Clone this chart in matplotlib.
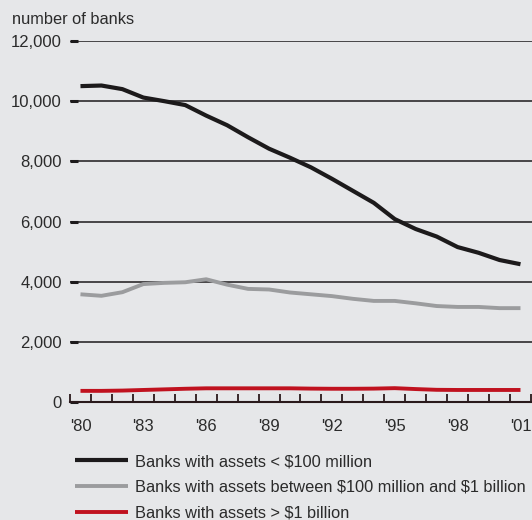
import matplotlib
matplotlib.use("Agg")
import matplotlib.pyplot as plt
import numpy as np

years = np.arange(1980, 2002)
small_banks = [10500, 10520, 10400, 10120, 10000, 9870, 9520, 9200, 8800, 8420,
               8120, 7800, 7420, 7020, 6620, 6080, 5750, 5500, 5150, 4960, 4720, 4580]
mid_banks = [3580, 3530, 3650, 3920, 3960, 3980, 4080, 3900, 3760, 3740,
             3640, 3580, 3520, 3430, 3360, 3360, 3280, 3190, 3160, 3160, 3120, 3120]
large_banks = [370, 370, 380, 400, 420, 440, 455, 455, 455, 455,
               455, 445, 440, 440, 445, 460, 430, 405, 400, 400, 400, 400]
tick_labels = ["'80", "'83", "'86", "'89", "'92", "'95", "'98", "'01"]
legend_labels = [r"Banks with assets < \$100 million",
                 r"Banks with assets between \$100 million and \$1 billion",
                 r"Banks with assets > \$1 billion"]

plt.rcParams['font.family'] = ['Liberation Sans', 'DejaVu Sans']
bg = '#e6e7e9'
txt = '#2b2b2b'

fig = plt.figure(figsize=(5.32, 5.2), dpi=100, facecolor=bg)
W, H = 532, 520
ax = fig.add_axes([70 / W, (H - 402) / H, (532 - 70) / W, (402 - 41) / H])
ax.set_facecolor(bg)

l1, = ax.plot(years, small_banks, color='#1c1a1b', lw=3.0, solid_capstyle='butt', zorder=3)
l2, = ax.plot(years, mid_banks, color='#9b9c9e', lw=2.8, solid_capstyle='butt', zorder=3)
l3, = ax.plot(years, large_banks, color='#c0121f', lw=2.8, solid_capstyle='butt', zorder=3)

ax.set_xlim(1979.5, 2001.55)
ax.set_ylim(0, 12000)
ax.set_yticks(np.arange(0, 12001, 2000))
ax.set_yticklabels(['0', '2,000', '4,000', '6,000', '8,000', '10,000', '12,000'])
ax.yaxis.grid(True, color='#1c1a1b', lw=1.1)
ax.set_axisbelow(True)

ax.set_xticks(years[::3])
ax.set_xticklabels(tick_labels)
ax.set_xticks(np.arange(1979.5, 2002, 1), minor=True)

for s in ['top', 'right', 'left']:
    ax.spines[s].set_visible(False)
ax.spines['bottom'].set_color('#2a1a1c')
ax.spines['bottom'].set_linewidth(1.5)

ax.tick_params(axis='y', direction='in', length=6, width=2.2, color='#1c1a1b',
               pad=6, labelsize=12, labelcolor=txt)
ax.tick_params(axis='x', which='major', length=0, pad=12, labelsize=12, labelcolor=txt)
ax.tick_params(axis='x', which='minor', direction='in', length=6, width=1.3, color='#2a1a1c')

fig.text(12 / W, 1 - 20 / H, 'number of banks', fontsize=11.8, color=txt, va='center', ha='left')

fig.legend([l1, l2, l3], legend_labels, loc='upper left',
           bbox_to_anchor=(75 / W, 1 - 454 / H), frameon=False, borderpad=0,
           borderaxespad=0, handlelength=3.25, handletextpad=0.4, labelspacing=0.66,
           fontsize=11.75, labelcolor=txt)

fig.savefig('out.png', dpi=100, facecolor=bg)
